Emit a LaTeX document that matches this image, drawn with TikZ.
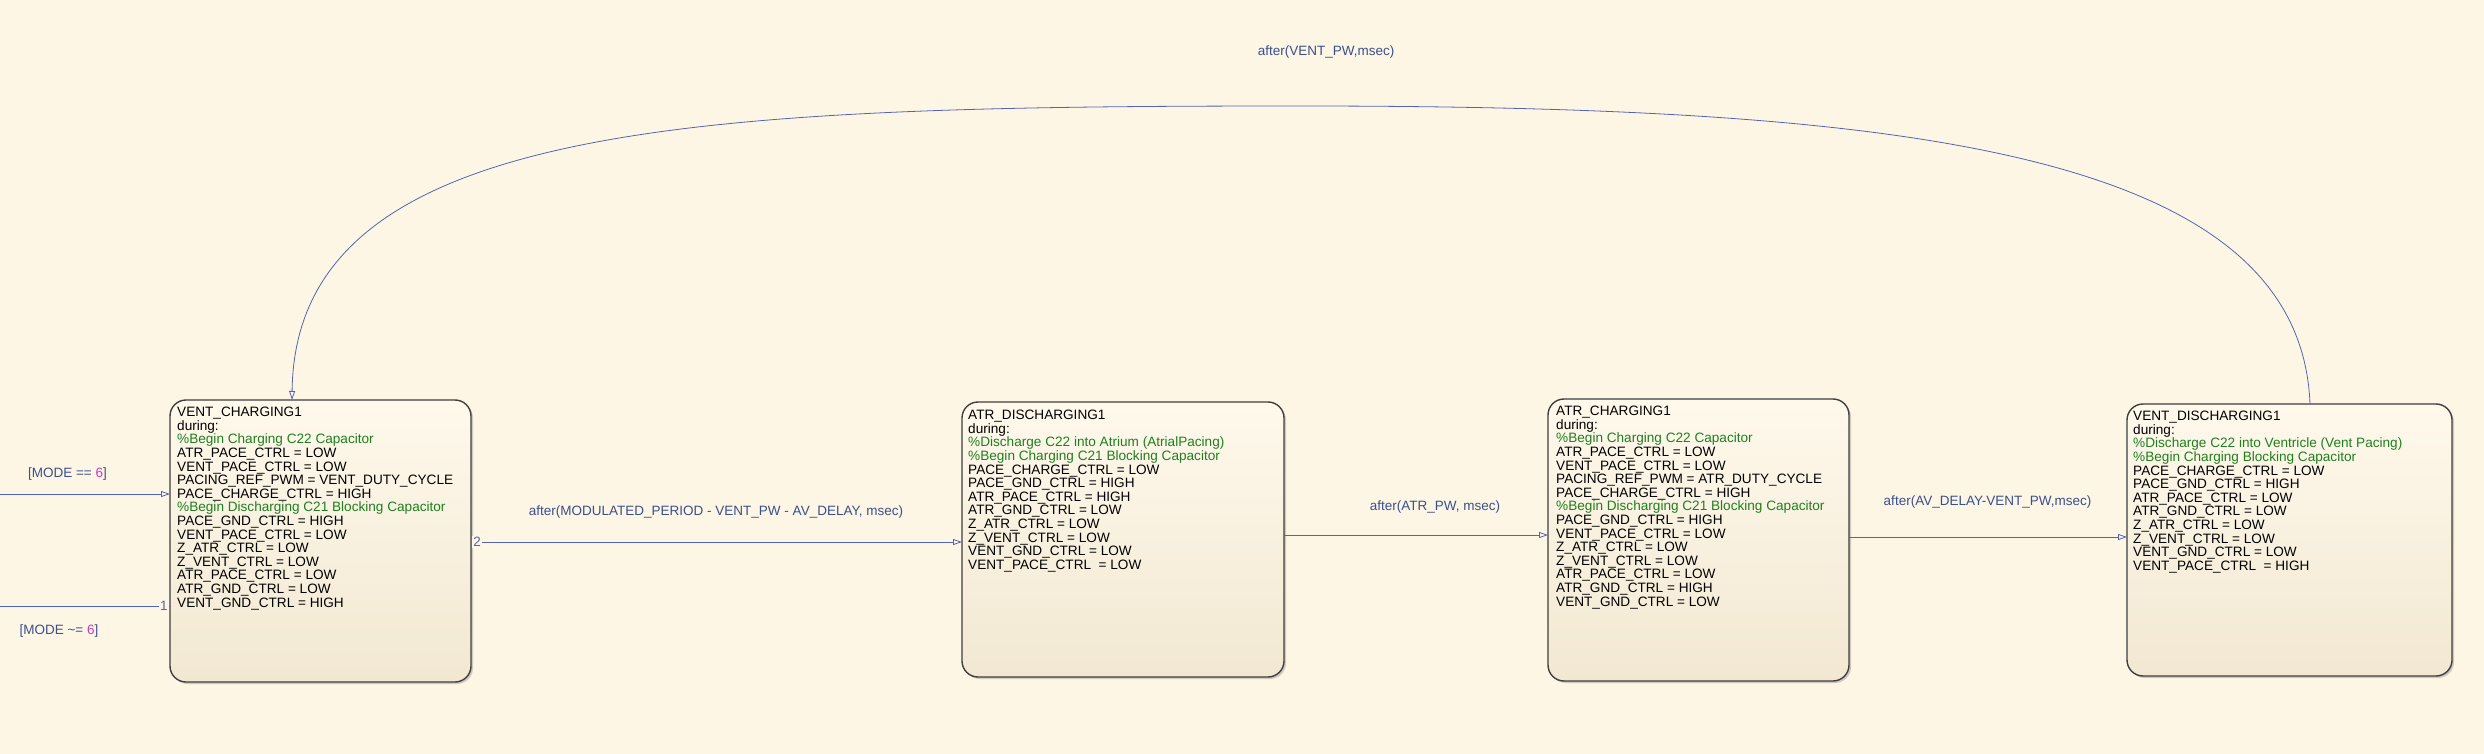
\documentclass[tikz,border=0pt]{standalone}
\usepackage{fontspec}
\setmainfont{Liberation Sans}
\usetikzlibrary{arrows.meta,shadows}
\definecolor{bg}{HTML}{FEF6E4}
\definecolor{boxtop}{HTML}{FFF9EC}
\definecolor{boxbot}{HTML}{F2E8D2}
\definecolor{edgec}{HTML}{3F3F3F}
\definecolor{tline}{HTML}{5464B2}
\definecolor{tlabel}{HTML}{3A4F8E}
\definecolor{numc}{HTML}{C43CC4}
\definecolor{cmt}{HTML}{1F7F1F}
\newcommand{\cmtline}[1]{{\color{cmt}#1}}
\newcommand{\numtxt}[1]{{\color{numc}#1}}
\tikzset{
  statebox/.style={draw=edgec, line width=1.4pt, rounded corners=16pt,
    top color=boxtop, bottom color=boxbot, anchor=north west,
    inner sep=0pt, outer sep=0pt,
    drop shadow={shadow xshift=2pt, shadow yshift=-2pt, opacity=0.3, fill=black!60}},
  statetext/.style={anchor=north west, inner sep=0pt, align=left,
    font=\fontsize{13.6}{13.6}\selectfont, text=black},
  translabel/.style={text=tlabel, inner sep=0pt, font=\fontsize{13.5}{16}\selectfont},
  trans/.style={draw=tline, line width=0.8pt, -{Triangle[open,length=9pt,width=6pt]}},
  plainline/.style={draw=tline, line width=0.8pt},
  ordernum/.style={fill=bg, text=tline, inner sep=1pt, font=\fontsize{13.5}{16}\selectfont}
}
\begin{document}
\begin{tikzpicture}[x=1pt,y=-1pt]
\useasboundingbox (0,0) rectangle (2484,754);
\fill[bg] (0,0) rectangle (2484,754);

% states
\node[statebox, minimum width=301pt, minimum height=282pt] (vc) at (170,400) {};
\node[statebox, minimum width=322pt, minimum height=275pt] (ad) at (962,402) {};
\node[statebox, minimum width=301pt, minimum height=282pt] (ac) at (1548,399) {};
\node[statebox, minimum width=325pt, minimum height=272pt] (vd) at (2127,404) {};

\node[statetext] (vct) at ([shift={(7,7)}]vc.north west) {VENT\_CHARGING1\\
during:\\
\cmtline{\%Begin Charging C22 Capacitor}\\
ATR\_PACE\_CTRL = LOW\\
VENT\_PACE\_CTRL = LOW\\
PACING\_REF\_PWM = VENT\_DUTY\_CYCLE\\
PACE\_CHARGE\_CTRL = HIGH\\
\cmtline{\%Begin Discharging C21 Blocking Capacitor}\\
PACE\_GND\_CTRL = HIGH\\
VENT\_PACE\_CTRL = LOW\\
Z\_ATR\_CTRL = LOW\\
Z\_VENT\_CTRL = LOW\\
ATR\_PACE\_CTRL = LOW\\
ATR\_GND\_CTRL = LOW\\
VENT\_GND\_CTRL = HIGH};

\node[statetext] (adt) at ([shift={(6,8)}]ad.north west) {ATR\_DISCHARGING1\\
during:\\
\cmtline{\%Discharge C22 into Atrium (AtrialPacing)}\\
\cmtline{\%Begin Charging C21 Blocking Capacitor}\\
PACE\_CHARGE\_CTRL = LOW\\
PACE\_GND\_CTRL = HIGH\\
ATR\_PACE\_CTRL = HIGH\\
ATR\_GND\_CTRL = LOW\\
Z\_ATR\_CTRL = LOW\\
Z\_VENT\_CTRL = LOW\\
VENT\_GND\_CTRL = LOW\\
VENT\_PACE\_CTRL\ \ = LOW};

\node[statetext] (act) at ([shift={(8,7)}]ac.north west) {ATR\_CHARGING1\\
during:\\
\cmtline{\%Begin Charging C22 Capacitor}\\
ATR\_PACE\_CTRL = LOW\\
VENT\_PACE\_CTRL = LOW\\
PACING\_REF\_PWM = ATR\_DUTY\_CYCLE\\
PACE\_CHARGE\_CTRL = HIGH\\
\cmtline{\%Begin Discharging C21 Blocking Capacitor}\\
PACE\_GND\_CTRL = HIGH\\
VENT\_PACE\_CTRL = LOW\\
Z\_ATR\_CTRL = LOW\\
Z\_VENT\_CTRL = LOW\\
ATR\_PACE\_CTRL = LOW\\
ATR\_GND\_CTRL = HIGH\\
VENT\_GND\_CTRL = LOW};

\node[statetext] (vdt) at ([shift={(6,7)}]vd.north west) {VENT\_DISCHARGING1\\
during:\\
\cmtline{\%Discharge C22 into Ventricle (Vent Pacing)}\\
\cmtline{\%Begin Charging Blocking Capacitor}\\
PACE\_CHARGE\_CTRL = LOW\\
PACE\_GND\_CTRL = HIGH\\
ATR\_PACE\_CTRL = LOW\\
ATR\_GND\_CTRL = LOW\\
Z\_ATR\_CTRL = LOW\\
Z\_VENT\_CTRL = LOW\\
VENT\_GND\_CTRL = LOW\\
VENT\_PACE\_CTRL\ \ = HIGH};

% free ends on the left edge
\coordinate (inL) at (0,494);
\coordinate (outL) at (0,606);

% transitions
\draw[trans] (inL) -- (vc.west |- inL);
\draw[plainline] (vc.west |- outL) -- (outL);
\node[ordernum] (o1) at (164,606) {1};

\draw[trans] (vc.east |- 0,542) -- (ad.west |- 0,542);
\node[ordernum] (o2) at (477,542) {2};

\draw[trans] (ad.east |- 0,535) -- (ac.west |- 0,535);
\draw[trans] (ac.east |- 0,537) -- (vd.west |- 0,537);

\draw[trans] (2310,0 |- vd.north) .. controls (2300,150) and (1900,106) .. (1300,106)
  .. controls (700,106) and (295,120) .. (292,0 |- vc.north);

% labels
\node[translabel] (l1) at (67.5,474) {[MODE == \numtxt{6}]};
\node[translabel] (l2) at (59,631) {[MODE \textasciitilde= \numtxt{6}]};
\node[translabel] (l3) at (716,512) {after(MODULATED\_PERIOD - VENT\_PW - AV\_DELAY, msec)};
\node[translabel] (l4) at (1435,507) {after(ATR\_PW, msec)};
\node[translabel] (l5) at (1987.5,502) {after(AV\_DELAY-VENT\_PW,msec)};
\node[translabel] (l6) at (1326,52) {after(VENT\_PW,msec)};
\end{tikzpicture}
\end{document}
